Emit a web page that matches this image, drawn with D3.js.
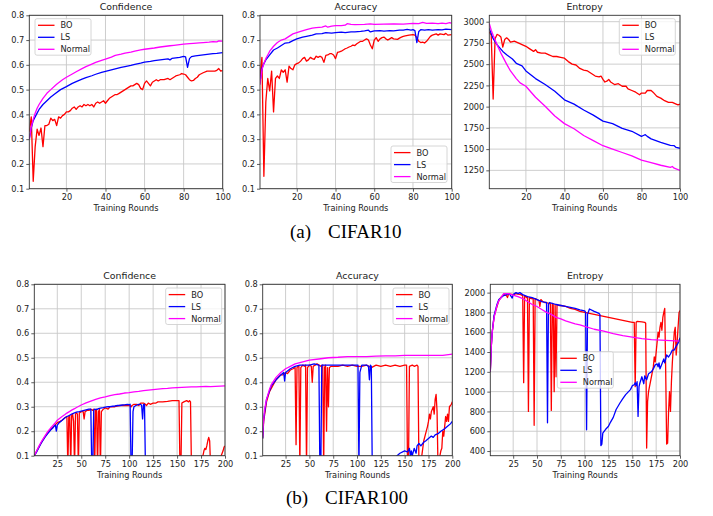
<!DOCTYPE html>
<html><head><meta charset="utf-8">
<script src="https://cdn.jsdelivr.net/npm/d3@7"></script>
<style>body{margin:0;background:#fff}svg{display:block}</style>
</head><body>
<svg id="chart" width="713" height="516"></svg>
<script>
// ---------- DATA (round, value) ----------
const seriesNames = ["BO", "LS", "Normal"];
const ticksX10 = [20, 40, 60, 80, 100];
const ticksX100 = [25, 50, 75, 100, 125, 150, 175, 200];
const ticksProb = [0.1, 0.2, 0.3, 0.4, 0.5, 0.6, 0.7, 0.8];
const ticksEnt10 = [1250, 1500, 1750, 2000, 2250, 2500, 2750, 3000];
const ticksEnt100 = [400, 600, 800, 1000, 1200, 1400, 1600, 1800, 2000];

// CIFAR10 Confidence
const c10ConfBO = [[1,0.33],[2,0.39],[3,0.13],[4,0.27],[5,0.34],[6,0.315],[7,0.345],[8,0.27],[9,0.355],[10,0.355],[11,0.36],[12,0.385],[13,0.375],[14,0.38],[15,0.355],[16,0.39],[17,0.385],[18,0.395],[19,0.4],[20,0.41],[21,0.41],[22,0.415],[23,0.425],[24,0.43],[25,0.42],[26,0.43],[27,0.435],[28,0.43],[29,0.44],[30,0.435],[31,0.44],[32,0.435],[33,0.44],[34,0.43],[35,0.445],[36,0.45],[37,0.445],[38,0.45],[39,0.455],[40,0.445],[41,0.455],[42,0.465],[43,0.47],[44,0.475],[45,0.48],[46,0.48],[47,0.485],[48,0.49],[49,0.495],[50,0.5],[51,0.505],[52,0.51],[53,0.515],[54,0.515],[55,0.52],[56,0.525],[57,0.52],[58,0.505],[59,0.5],[60,0.525],[61,0.535],[62,0.525],[63,0.515],[64,0.53],[65,0.535],[66,0.54],[67,0.535],[68,0.54],[70,0.54],[72,0.545],[73,0.54],[75,0.55],[76,0.555],[78,0.56],[79,0.565],[80,0.563],[81,0.56],[82,0.55],[83,0.54],[84,0.535],[85,0.537],[86,0.545],[87,0.55],[88,0.56],[90,0.568],[92,0.575],[94,0.575],[96,0.575],[97,0.578],[98,0.585],[99,0.575],[100,0.578]];
const c10ConfLS = [[1,0.30],[2,0.345],[3,0.375],[4,0.39],[5,0.405],[6,0.42],[8,0.44],[10,0.455],[12,0.47],[14,0.482],[17,0.5],[20,0.512],[23,0.525],[25,0.532],[28,0.542],[30,0.548],[33,0.556],[35,0.562],[38,0.57],[40,0.574],[43,0.58],[45,0.584],[48,0.59],[50,0.593],[53,0.598],[55,0.602],[58,0.607],[60,0.611],[63,0.614],[65,0.617],[68,0.62],[70,0.622],[72,0.624],[73,0.62],[74,0.626],[76,0.628],[78,0.63],[80,0.634],[81,0.632],[82,0.59],[83,0.625],[84,0.633],[86,0.636],[88,0.638],[90,0.64],[93,0.643],[95,0.645],[97,0.646],[100,0.649]];
const c10ConfNormal = [[1,0.30],[2,0.35],[3,0.38],[4,0.405],[5,0.425],[6,0.44],[8,0.465],[10,0.485],[12,0.5],[15,0.522],[18,0.54],[20,0.55],[23,0.563],[25,0.572],[28,0.585],[30,0.593],[33,0.603],[35,0.61],[38,0.618],[40,0.623],[43,0.631],[45,0.638],[48,0.643],[50,0.647],[53,0.651],[55,0.655],[58,0.66],[60,0.663],[63,0.666],[65,0.668],[68,0.672],[70,0.674],[73,0.677],[75,0.679],[78,0.682],[80,0.684],[83,0.686],[85,0.687],[88,0.689],[90,0.69],[93,0.692],[95,0.694],[97,0.693],[98,0.697],[100,0.696]];

// CIFAR10 Accuracy
const c10AccBO = [[1,0.55],[2,0.63],[3,0.15],[4,0.45],[5,0.545],[6,0.495],[7,0.575],[8,0.41],[9,0.545],[10,0.555],[11,0.545],[12,0.58],[13,0.57],[14,0.58],[15,0.53],[16,0.595],[17,0.585],[18,0.58],[19,0.6],[20,0.605],[21,0.608],[22,0.615],[23,0.625],[24,0.63],[25,0.615],[26,0.62],[27,0.63],[28,0.625],[29,0.622],[30,0.635],[31,0.63],[32,0.635],[33,0.63],[34,0.61],[35,0.638],[36,0.64],[37,0.645],[38,0.645],[39,0.64],[40,0.625],[41,0.65],[42,0.652],[43,0.655],[44,0.66],[45,0.665],[46,0.668],[47,0.672],[48,0.675],[49,0.68],[50,0.678],[51,0.685],[52,0.69],[53,0.695],[54,0.695],[55,0.7],[56,0.705],[57,0.7],[58,0.68],[59,0.665],[60,0.7],[61,0.71],[62,0.695],[63,0.705],[64,0.71],[65,0.712],[66,0.705],[67,0.7],[68,0.705],[69,0.71],[70,0.705],[72,0.703],[73,0.708],[74,0.712],[75,0.715],[76,0.717],[78,0.72],[80,0.722],[81,0.72],[82,0.71],[83,0.695],[84,0.69],[85,0.692],[86,0.688],[87,0.695],[88,0.705],[89,0.715],[90,0.72],[92,0.725],[93,0.72],[94,0.725],[96,0.722],[97,0.727],[98,0.72],[100,0.722]];
const c10AccLS = [[1,0.53],[2,0.585],[3,0.605],[4,0.62],[5,0.63],[6,0.64],[8,0.66],[10,0.668],[12,0.678],[14,0.688],[16,0.69],[18,0.698],[20,0.705],[23,0.712],[25,0.715],[28,0.72],[30,0.725],[33,0.726],[35,0.73],[38,0.728],[40,0.73],[43,0.732],[45,0.73],[48,0.733],[50,0.733],[53,0.735],[55,0.737],[57,0.74],[58,0.733],[60,0.737],[63,0.738],[65,0.736],[68,0.738],[70,0.737],[73,0.74],[75,0.74],[77,0.743],[79,0.74],[80,0.742],[81,0.738],[82,0.69],[83,0.735],[84,0.742],[86,0.74],[88,0.742],[90,0.74],[93,0.742],[95,0.741],[97,0.744],[100,0.742]];
const c10AccNormal = [[1,0.52],[2,0.58],[3,0.605],[4,0.625],[5,0.64],[6,0.655],[8,0.675],[10,0.69],[12,0.7],[14,0.705],[16,0.715],[18,0.725],[20,0.73],[22,0.735],[25,0.742],[28,0.748],[30,0.75],[33,0.752],[35,0.757],[36,0.752],[38,0.756],[40,0.758],[43,0.758],[45,0.76],[46,0.766],[48,0.763],[50,0.762],[55,0.763],[58,0.765],[60,0.763],[65,0.764],[70,0.765],[75,0.764],[80,0.767],[83,0.766],[85,0.771],[87,0.767],[90,0.768],[93,0.766],[95,0.768],[97,0.766],[99,0.77],[100,0.767]];

// CIFAR10 Entropy
const c10EntBO = [[1,2880],[2,2840],[3,2090],[4,2800],[5,2850],[6,2840],[7,2820],[8,2700],[9,2790],[10,2810],[11,2790],[12,2760],[14,2770],[16,2750],[18,2730],[20,2710],[22,2680],[24,2650],[25,2670],[26,2640],[28,2630],[30,2630],[32,2610],[34,2590],[36,2590],[38,2580],[40,2570],[42,2530],[44,2500],[46,2490],[48,2450],[50,2430],[52,2420],[54,2390],[56,2360],[58,2350],[59,2360],[60,2320],[61,2290],[62,2300],[63,2320],[64,2290],[66,2260],[68,2270],[70,2240],[72,2240],[73,2210],[75,2190],[77,2170],[79,2140],[80,2160],[82,2160],[83,2190],[85,2190],[86,2170],[88,2120],[90,2100],[92,2070],[94,2050],[96,2050],[98,2030],[99,2020],[100,2030]];
const c10EntLS = [[1,2920],[3,2800],[5,2730],[8,2650],[10,2610],[13,2560],[15,2510],[18,2480],[20,2420],[25,2330],[30,2260],[35,2180],[40,2080],[45,2030],[50,1960],[55,1900],[60,1830],[65,1800],[70,1745],[75,1710],[80,1650],[81,1660],[82,1670],[83,1650],[85,1620],[90,1580],[95,1545],[97,1540],[98,1520],[100,1510]];
const c10EntNormal = [[1,2980],[2,2900],[3,2840],[5,2730],[7,2630],[10,2500],[12,2420],[15,2330],[17,2280],[20,2240],[25,2110],[30,2005],[35,1890],[40,1800],[45,1740],[50,1660],[55,1600],[60,1540],[65,1500],[70,1460],[75,1420],[80,1370],[85,1340],[90,1310],[95,1285],[96,1295],[97,1275],[100,1250]];

// CIFAR100 Confidence
const c100ConfBO = [[1,0.1],[5,0.13],[10,0.165],[15,0.195],[20,0.215],[25,0.235],[28,0.24],[30,0.245],[33,0.255],[35,0.26],[36,0.05],[37,0.26],[38,0.265],[39,0.05],[40,0.265],[41,0.27],[42,0.24],[43,0.05],[44,0.27],[45,0.275],[46,0.27],[47,0.05],[48,0.275],[50,0.28],[52,0.28],[53,0.25],[54,0.28],[56,0.285],[58,0.285],[60,0.29],[62,0.285],[63,0.29],[64,0.05],[65,0.285],[66,0.29],[67,0.05],[68,0.28],[69,0.29],[70,0.05],[71,0.28],[73,0.29],[75,0.295],[78,0.29],[80,0.3],[85,0.3],[90,0.305],[95,0.305],[100,0.305],[102,0.3],[103,0.305],[105,0.31],[108,0.31],[110,0.305],[112,0.315],[115,0.315],[117,0.31],[118,0.305],[120,0.315],[122,0.31],[125,0.315],[128,0.315],[130,0.32],[135,0.32],[140,0.322],[145,0.325],[150,0.325],[152,0.325],[153,0.05],[154,0.05],[155,0.315],[157,0.32],[160,0.325],[162,0.32],[163,0.325],[164,0.32],[165,0.05],[174,0.05],[176,0.1],[177,0.1],[178,0.12],[179,0.13],[180,0.125],[181,0.14],[182,0.16],[183,0.175],[184,0.16],[185,0.05],[195,0.05],[196,0.1],[198,0.12],[199,0.135],[200,0.14]];
const c100ConfLS = [[1,0.1],[3,0.112],[5,0.128],[8,0.15],[10,0.162],[12,0.175],[15,0.19],[18,0.205],[20,0.212],[22,0.222],[23,0.225],[24,0.2],[25,0.225],[27,0.235],[30,0.245],[33,0.255],[35,0.26],[38,0.265],[40,0.27],[43,0.275],[45,0.278],[48,0.28],[50,0.282],[53,0.285],[55,0.287],[58,0.29],[60,0.29],[61,0.05],[62,0.05],[63,0.285],[64,0.29],[66,0.288],[68,0.292],[70,0.294],[73,0.296],[75,0.298],[78,0.3],[80,0.3],[83,0.302],[85,0.303],[88,0.305],[90,0.305],[93,0.307],[95,0.308],[98,0.31],[100,0.309],[101,0.31],[102,0.05],[103,0.05],[104,0.28],[105,0.3],[107,0.305],[110,0.31],[112,0.31],[113,0.305],[114,0.25],[115,0.31],[116,0.31],[117,0.05],[140,0.04],[170,0.06],[200,0.08]];
const c100ConfNormal = [[1,0.1],[2,0.108],[3,0.116],[4,0.124],[5,0.132],[6,0.14],[8,0.155],[10,0.168],[12,0.18],[14,0.192],[16,0.203],[18,0.213],[20,0.222],[23,0.235],[25,0.245],[28,0.254],[30,0.26],[33,0.268],[35,0.274],[38,0.281],[40,0.286],[43,0.292],[45,0.297],[48,0.303],[50,0.307],[55,0.316],[60,0.323],[65,0.33],[70,0.336],[75,0.34],[80,0.345],[85,0.349],[90,0.352],[95,0.356],[100,0.358],[105,0.361],[110,0.363],[115,0.366],[120,0.368],[125,0.37],[130,0.372],[135,0.374],[140,0.375],[145,0.377],[150,0.378],[155,0.379],[160,0.38],[165,0.381],[170,0.381],[175,0.382],[180,0.383],[185,0.382],[190,0.383],[195,0.384],[200,0.385]];

// CIFAR100 Accuracy
const c100AccBO = [[1,0.17],[2,0.24],[5,0.32],[8,0.36],[10,0.375],[15,0.41],[20,0.43],[22,0.43],[25,0.44],[27,0.435],[30,0.45],[33,0.455],[35,0.46],[36,0.145],[37,0.46],[38,0.465],[39,0.465],[40,0.05],[41,0.46],[43,0.47],[45,0.465],[46,0.47],[47,0.05],[48,0.46],[50,0.47],[52,0.465],[53,0.40],[54,0.465],[56,0.47],[58,0.475],[60,0.47],[62,0.465],[64,0.47],[65,0.05],[66,0.46],[67,0.47],[68,0.2],[69,0.46],[70,0.3],[71,0.46],[73,0.465],[75,0.465],[80,0.465],[85,0.47],[90,0.465],[95,0.47],[100,0.465],[105,0.465],[110,0.47],[115,0.46],[120,0.47],[125,0.465],[130,0.47],[135,0.465],[140,0.47],[145,0.465],[150,0.47],[152,0.47],[153,0.05],[154,0.05],[155,0.465],[158,0.47],[160,0.465],[163,0.47],[164,0.465],[165,0.05],[167,0.05],[168,0.1],[170,0.16],[172,0.19],[174,0.22],[175,0.24],[176,0.27],[177,0.25],[178,0.28],[180,0.3],[181,0.27],[182,0.33],[183,0.35],[184,0.28],[185,0.05],[186,0.08],[188,0.12],[189,0.13],[190,0.2],[191,0.18],[192,0.22],[193,0.26],[194,0.24],[195,0.27],[196,0.24],[197,0.3],[199,0.31],[200,0.32]];
const c100AccLS = [[1,0.17],[2,0.25],[5,0.33],[10,0.385],[15,0.41],[20,0.43],[23,0.44],[24,0.405],[25,0.44],[30,0.455],[35,0.465],[40,0.47],[45,0.47],[50,0.47],[55,0.475],[60,0.47],[61,0.05],[62,0.05],[63,0.47],[65,0.47],[70,0.47],[75,0.47],[80,0.47],[90,0.47],[100,0.47],[101,0.47],[102,0.05],[103,0.44],[105,0.47],[110,0.47],[112,0.465],[113,0.41],[114,0.47],[115,0.465],[116,0.05],[130,0.05],[139,0.09],[142,0.1],[145,0.11],[150,0.12],[153,0.115],[155,0.13],[156,0.1],[157,0.12],[158,0.1],[160,0.13],[162,0.11],[163,0.14],[165,0.15],[167,0.14],[170,0.155],[172,0.16],[175,0.17],[178,0.18],[180,0.175],[182,0.185],[185,0.19],[188,0.2],[190,0.205],[192,0.21],[195,0.22],[198,0.23],[200,0.24]];
const c100AccNormal = [[1,0.18],[2,0.25],[3,0.29],[5,0.33],[8,0.37],[10,0.39],[15,0.42],[20,0.44],[25,0.455],[30,0.465],[35,0.475],[40,0.48],[45,0.485],[50,0.49],[60,0.495],[70,0.5],[80,0.502],[90,0.505],[100,0.505],[110,0.505],[120,0.507],[130,0.508],[140,0.508],[150,0.51],[160,0.51],[170,0.51],[180,0.51],[190,0.51],[200,0.515]];

// CIFAR100 Entropy
const c100EntBO = [[1,1200],[2,1450],[3,1600],[5,1760],[8,1860],[10,1920],[12,1950],[15,1980],[18,1970],[19,1950],[20,1980],[22,1985],[25,1980],[28,1990],[30,1985],[33,1980],[35,1970],[36,1090],[37,1970],[38,1960],[39,1950],[40,1960],[41,800],[42,1950],[44,1940],[46,1940],[47,660],[48,1940],[50,1930],[52,1920],[53,1860],[54,1930],[56,1910],[58,1900],[60,1900],[62,1890],[64,1890],[65,810],[66,1890],[67,1880],[68,1000],[69,1880],[70,1150],[71,1880],[73,1870],[75,1870],[80,1860],[85,1840],[90,1830],[95,1810],[100,1800],[105,1790],[110,1780],[115,1770],[120,1760],[125,1750],[130,1740],[135,1730],[140,1720],[145,1710],[150,1700],[152,1700],[153,1050],[154,1700],[155,1710],[160,1705],[163,1700],[164,1690],[165,430],[166,900],[167,1000],[168,1050],[170,1150],[172,1250],[173,1350],[174,1300],[175,1400],[176,1500],[177,1600],[178,1550],[179,1650],[180,1700],[181,1620],[182,1750],[183,1800],[184,1840],[185,1200],[186,470],[187,480],[188,800],[189,1000],[190,800],[191,1100],[192,1300],[193,1450],[194,1600],[195,1650],[196,1370],[197,1500],[198,1650],[199,1800],[200,1820]];
const c100EntLS = [[1,1200],[2,1450],[3,1600],[5,1770],[8,1880],[10,1930],[15,1970],[18,1980],[20,1990],[22,1975],[24,1945],[25,1980],[28,2000],[30,1990],[32,2000],[35,1980],[40,1960],[45,1950],[50,1930],[55,1910],[60,1900],[61,685],[62,1880],[63,1900],[65,1895],[70,1880],[75,1870],[80,1860],[85,1850],[90,1840],[95,1825],[100,1815],[101,1800],[102,615],[103,1780],[105,1835],[110,1810],[115,1790],[116,1780],[117,455],[118,470],[119,580],[122,620],[125,650],[127,690],[130,740],[133,820],[137,885],[140,930],[143,970],[146,1000],[148,1020],[150,1060],[152,1070],[153,1090],[154,1060],[155,1100],[156,750],[157,1050],[158,1090],[160,1150],[162,1080],[163,1160],[165,1120],[167,1180],[170,1200],[172,1230],[174,1270],[176,1280],[177,1250],[178,1290],[179,1230],[181,1280],[183,1330],[184,1290],[186,1370],[188,1350],[190,1380],[192,1420],[194,1420],[196,1460],[198,1490],[200,1545]];
const c100EntNormal = [[1,1200],[2,1450],[3,1600],[5,1750],[8,1870],[10,1920],[13,1960],[15,1990],[20,1990],[25,1975],[30,1960],[35,1940],[40,1910],[45,1880],[50,1860],[55,1830],[60,1800],[65,1780],[70,1750],[75,1735],[80,1715],[85,1700],[90,1685],[95,1675],[100,1660],[110,1630],[120,1610],[130,1585],[140,1565],[150,1550],[160,1535],[170,1525],[180,1520],[190,1515],[200,1510]];

const colors = {BO: "#ff0000", LS: "#0000ff", Normal: "#ff00ff"};

// ---------- LAYOUT ----------
const panels = [
  {title:"Confidence", l:29.3, r:222.7, t:15.3, b:188.7, xd:[1,100], yd:[0.1,0.8], xt:ticksX10, yt:ticksProb, yfmt:d3.format(".1f"),
   data:[c10ConfBO,c10ConfLS,c10ConfNormal], leg:{x:35,y:18.7}},
  {title:"Accuracy", l:260, r:451.7, t:15.3, b:188.7, xd:[1,100], yd:[0.1,0.8], xt:ticksX10, yt:ticksProb, yfmt:d3.format(".1f"),
   data:[c10AccBO,c10AccLS,c10AccNormal], leg:{x:391,y:146}},
  {title:"Entropy", l:489.3, r:680, t:15.3, b:188.7, xd:[1,100], yd:[1034,3075], xt:ticksX10, yt:ticksEnt10, yfmt:d3.format("d"),
   data:[c10EntBO,c10EntLS,c10EntNormal], leg:{x:619.3,y:18.7}},
  {title:"Confidence", l:34.3, r:225, t:284.3, b:455.7, xd:[1,200], yd:[0.1,0.8], xt:ticksX100, yt:ticksProb, yfmt:d3.format(".1f"),
   data:[c100ConfBO,c100ConfLS,c100ConfNormal], leg:{x:165.7,y:288}},
  {title:"Accuracy", l:262.7, r:452.3, t:284.3, b:455.7, xd:[1,200], yd:[0.1,0.8], xt:ticksX100, yt:ticksProb, yfmt:d3.format(".1f"),
   data:[c100AccBO,c100AccLS,c100AccNormal], leg:{x:393,y:288}},
  {title:"Entropy", l:490.3, r:680, t:284.3, b:455.7, xd:[1,200], yd:[353,2084], xt:ticksX100, yt:ticksEnt100, yfmt:d3.format("d"),
   data:[c100EntBO,c100EntLS,c100EntNormal], leg:{x:557.3,y:351.7}}
];

const svg = d3.select("#chart");
const FONT = "DejaVu Sans";
const fs = 8.2;

panels.forEach((p, i) => {
  const x = d3.scaleLinear().domain(p.xd).range([p.l, p.r]);
  const y = d3.scaleLinear().domain(p.yd).range([p.b, p.t]);
  const g = svg.append("g");

  // grid
  g.append("g").selectAll("line.gx").data(p.xt).join("line")
    .attr("x1", d => x(d)).attr("x2", d => x(d)).attr("y1", p.t).attr("y2", p.b)
    .attr("stroke", "#c8c8c8").attr("stroke-width", 0.9);
  g.append("g").selectAll("line.gy").data(p.yt).join("line")
    .attr("x1", p.l).attr("x2", p.r).attr("y1", d => y(d)).attr("y2", d => y(d))
    .attr("stroke", "#c8c8c8").attr("stroke-width", 0.9);

  // clip
  const cid = "clip" + i;
  svg.append("clipPath").attr("id", cid).append("rect")
    .attr("x", p.l).attr("y", p.t).attr("width", p.r - p.l).attr("height", p.b - p.t);

  const line = d3.line().x(d => x(d[0])).y(d => y(d[1]));
  const lg = g.append("g").attr("clip-path", `url(#${cid})`);
  p.data.forEach((s, k) => {
    lg.append("path").datum(s).attr("d", line)
      .attr("fill", "none").attr("stroke", colors[seriesNames[k]])
      .attr("stroke-width", 1.3).attr("stroke-linejoin", "round");
  });

  // frame
  g.append("rect").attr("x", p.l).attr("y", p.t).attr("width", p.r - p.l).attr("height", p.b - p.t)
    .attr("fill", "none").attr("stroke", "#333").attr("stroke-width", 0.9);

  // axes
  const ax = g.append("g").attr("transform", `translate(0,${p.b})`)
    .call(d3.axisBottom(x).tickValues(p.xt).tickSize(3).tickPadding(2).tickFormat(d3.format("d")));
  const ay = g.append("g").attr("transform", `translate(${p.l},0)`)
    .call(d3.axisLeft(y).tickValues(p.yt).tickSize(3).tickPadding(2).tickFormat(p.yfmt));
  [ax, ay].forEach(a => {
    a.select(".domain").remove();
    a.selectAll("line").attr("stroke", "#333").attr("stroke-width", 0.8);
    a.selectAll("text").attr("font-family", FONT).attr("font-size", fs).attr("fill", "#222");
  });

  // title and x label
  g.append("text").attr("x", (p.l + p.r) / 2).attr("y", p.t - 5).attr("text-anchor", "middle")
    .attr("font-family", FONT).attr("font-size", 9.4).attr("fill", "#222").text(p.title);
  g.append("text").attr("x", (p.l + p.r) / 2).attr("y", p.b + 22.5).attr("text-anchor", "middle")
    .attr("font-family", FONT).attr("font-size", fs).attr("fill", "#222").text("Training Rounds");

  // legend
  const L = g.append("g").attr("transform", `translate(${p.leg.x},${p.leg.y})`);
  L.append("rect").attr("width", 56).attr("height", 36.5).attr("rx", 2)
    .attr("fill", "#fff").attr("fill-opacity", 0.8).attr("stroke", "#cccccc").attr("stroke-width", 0.8);
  seriesNames.forEach((n, k) => {
    const yy = 6.6 + k * 12;
    L.append("line").attr("x1", 3).attr("x2", 19.5).attr("y1", yy).attr("y2", yy)
      .attr("stroke", colors[n]).attr("stroke-width", 1.3);
    L.append("text").attr("x", 25.5).attr("y", yy + 3).attr("font-family", FONT)
      .attr("font-size", fs).attr("fill", "#222").text(n);
  });
});

// captions
const captions = [{lab:"(a)", name:"CIFAR10", y:238}, {lab:"(b)", name:"CIFAR100", y:503.5}];
captions.forEach((c, i) => {
  svg.append("text").attr("x", i === 0 ? 290 : 286).attr("y", c.y)
    .attr("font-family", "Liberation Serif").attr("font-size", 19).attr("fill", "#000").text(c.lab);
  svg.append("text").attr("x", i === 0 ? 328 : 325).attr("y", c.y)
    .attr("font-family", "Liberation Serif").attr("font-size", 19).attr("fill", "#000").text(c.name);
});
</script>
</body></html>
